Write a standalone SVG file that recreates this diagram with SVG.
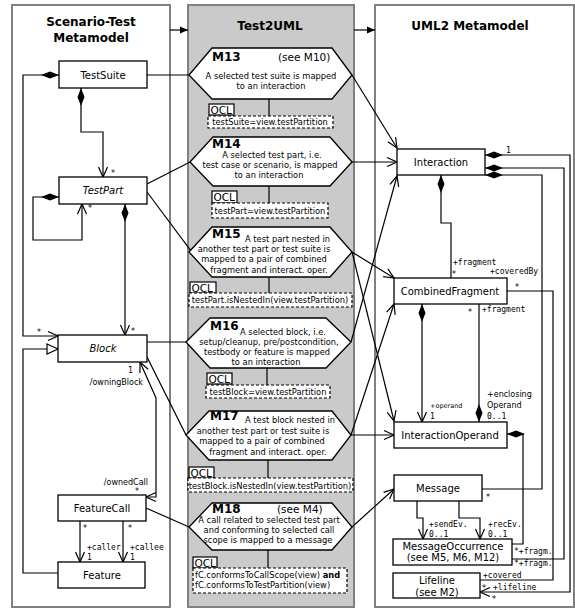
<svg xmlns="http://www.w3.org/2000/svg" width="575" height="610" viewBox="0 0 575 610">
<style>
text{font-family:"DejaVu Sans","Liberation Sans",sans-serif;fill:#000}
.ttl{font-size:12px;font-weight:bold;text-anchor:middle}
.cls{font-size:10px;text-anchor:middle}
.it{font-style:italic}
.mh{font-size:12px;font-weight:bold}
.see{font-size:10.5px}
.d{font-size:8.3px;text-anchor:middle}
.ds{font-size:8.3px}
.ocl{font-size:10.5px}
.oc{font-size:8.3px;text-anchor:middle}
.oct{font-size:8.3px}
.m{font-family:"DejaVu Sans Mono","Liberation Mono",monospace;font-size:8px}
.s{font-size:8px}
.s6{font-size:6.5px}
.box{fill:#fff;stroke:#000;stroke-width:1.3}
.hex{fill:#fff;stroke:#000;stroke-width:1.3}
.lbl{fill:#fff;stroke:#000;stroke-width:1.2}
.dash{fill:#fff;stroke:#000;stroke-width:1.2;stroke-dasharray:3,2}
.c{fill:none;stroke:#000;stroke-width:1.2}
.panel{fill:#fff;stroke:#808080;stroke-width:2}
.gpanel{fill:#cacaca;stroke:#808080;stroke-width:2}
</style>
<defs>
<marker id="arr" markerUnits="userSpaceOnUse" markerWidth="12" markerHeight="10" refX="10" refY="4.5" orient="auto-start-reverse" overflow="visible">
<path d="M0,0 L10,4.5 L0,9" fill="none" stroke="#000" stroke-width="1.2"/>
</marker>
<marker id="dia" markerUnits="userSpaceOnUse" markerWidth="20" markerHeight="10" refX="0" refY="3.5" orient="auto" overflow="visible">
<path d="M0,3.5 L9,0 L18,3.5 L9,7 Z" fill="#000"/>
</marker>
<marker id="tri" markerUnits="userSpaceOnUse" markerWidth="13" markerHeight="12" refX="11" refY="5" orient="auto" overflow="visible">
<path d="M0,0 L11,5 L0,10 Z" fill="#fff" stroke="#000" stroke-width="1.2"/>
</marker>
<marker id="farr" markerUnits="userSpaceOnUse" markerWidth="10" markerHeight="8" refX="8" refY="3.5" orient="auto" overflow="visible">
<path d="M0,0 L8,3.5 L0,7 Z" fill="#000"/>
</marker>
</defs>

<g id="panels">
<rect class="panel" x="12" y="5" width="158" height="602"/>
<rect class="gpanel" x="188" y="5" width="166" height="602"/>
<rect class="panel" x="375" y="5" width="199" height="602"/>
<text class="ttl" x="91" y="26">Scenario-Test</text>
<text class="ttl" x="91" y="42">Metamodel</text>
<text class="ttl" x="270" y="30">Test2UML</text>
<text class="ttl" x="470" y="30">UML2 Metamodel</text>
<path class="c" d="M170,30 L188,30" marker-end="url(#farr)"/>
<path class="c" d="M354,30 L375,30" marker-end="url(#farr)"/>
</g>

<g id="connectors">
<path class="c" d="M59,75 L23,75 L23,336 L58,336" marker-start="url(#dia)" marker-end="url(#arr)"/>
<path class="c" d="M81,88 L81,132 L103,132 L103,177" marker-start="url(#dia)" marker-end="url(#arr)"/>
<path class="c" d="M59,197 L33,197 L33,240 L82,240 L82,204" marker-start="url(#dia)" marker-end="url(#arr)"/>
<path class="c" d="M125,204 L125,335" marker-start="url(#dia)" marker-end="url(#arr)"/>
<path class="c" d="M58,573 L23,573 L23,349 L58,349" marker-end="url(#tri)"/>
<path class="c" d="M146,497 L156,497 L156,398 L140,362" marker-start="url(#arr)" marker-end="url(#arr)"/>
<path class="c" d="M80,521 L80,562" marker-end="url(#arr)"/>
<path class="c" d="M123,521 L123,562" marker-end="url(#arr)"/>
<path class="c" d="M147,75 L189,75"/>
<path class="c" d="M147,184 L190,162"/>
<path class="c" d="M147,192 L203,267"/>
<path class="c" d="M147,342 L186,342"/>
<path class="c" d="M147,357 L186,435"/>
<path class="c" d="M146,508 L189,527"/>
<path class="c" d="M352,75 L397,148" marker-end="url(#arr)"/>
<path class="c" d="M352,162 L397,162" marker-end="url(#arr)"/>
<path class="c" d="M352,252 L394,278" marker-end="url(#arr)"/>
<path class="c" d="M352,252 L394,421" marker-end="url(#arr)"/>
<path class="c" d="M351,342 L397,176" marker-end="url(#arr)"/>
<path class="c" d="M351,435 L394,304" marker-end="url(#arr)"/>
<path class="c" d="M351,435 L394,435" marker-end="url(#arr)"/>
<path class="c" d="M352,527 L394,489" marker-end="url(#arr)"/>
<path class="c" d="M485,155 L570,155 L570,592 L480,592" marker-start="url(#dia)" marker-end="url(#arr)"/>
<path class="c" d="M485,168 L564,168 L564,559 L512,559" marker-start="url(#dia)"/>
<path class="c" d="M485,175 L542,175 L542,489 L482,489" marker-start="url(#dia)"/>
<path class="c" d="M441,175 L441,223 L451,223 L451,278" marker-start="url(#dia)"/>
<path class="c" d="M422,304 L422,422" marker-start="url(#dia)" marker-end="url(#arr)"/>
<path class="c" d="M479,422 L479,304" marker-start="url(#dia)"/>
<path class="c" d="M507,434 L523,434 L523,544 L512,544" marker-start="url(#dia)"/>
<path class="c" d="M507,291 L553,291 L553,580 L480,580"/>
<path class="c" d="M417,501 L417,518 L423,518 L423,539" marker-end="url(#arr)"/>
<path class="c" d="M459,501 L459,518 L480,518 L480,539" marker-end="url(#arr)"/>
</g>

<g id="TestSuite"><rect class="box" x="59" y="61" width="88" height="27"/><text class="cls" x="103" y="78.5">TestSuite</text></g>
<g id="TestPart"><rect class="box" x="59" y="177" width="88" height="27"/><text class="cls it" x="103" y="194">TestPart</text></g>
<g id="Block"><rect class="box" x="58" y="335" width="89" height="27"/><text class="cls it" x="103" y="352">Block</text></g>
<g id="FeatureCall"><rect class="box" x="58" y="495" width="88" height="26"/><text class="cls" x="102" y="511.5">FeatureCall</text></g>
<g id="Feature"><rect class="box" x="58" y="562" width="87" height="26"/><text class="cls" x="102" y="578.5">Feature</text></g>

<g id="left-labels">
<text class="s" x="111" y="176">*</text>
<text class="s" x="88" y="211">*</text>
<text class="s" x="131" y="334">*</text>
<text class="s" x="37" y="335">*</text>
<text class="s" x="128" y="373">1</text>
<text class="s" x="143" y="385" text-anchor="end">/owningBlock</text>
<text class="s" x="148" y="485" text-anchor="end">/ownedCall</text>
<text class="s" x="135" y="494">*</text>
<text class="s" x="83" y="531">*</text>
<text class="s" x="128" y="531">*</text>
<text class="m" x="87" y="550">+caller</text>
<text class="m" x="87" y="560">1</text>
<text class="m" x="130" y="550">+callee</text>
<text class="m" x="130" y="560">1</text>
</g>

<g id="M13">
<polygon class="hex" points="189,75 212,48 332,48 352,75 332,99 212,99"/>
<text class="mh" x="212" y="61">M13</text><text class="see" x="278" y="61">(see M10)</text>
<text class="d" x="271" y="79">A selected test suite is mapped</text>
<text class="d" x="271" y="89">to an interaction</text>
<path class="c" d="M269,99 L269,116"/>
<rect class="lbl" x="209" y="104" width="25" height="11"/><text class="ocl" x="210.5" y="113.5">OCL</text>
<rect class="dash" x="208" y="116" width="125" height="12"/><text class="oc" x="270" y="125">testSuite=view.testPartition</text>
</g>

<g id="M14">
<polygon class="hex" points="190,162 213,137 330,137 352,162 330,186 213,186"/>
<text class="mh" x="212" y="148">M14</text>
<text class="d" x="272" y="158">A selected test part, i.e.</text>
<text class="d" x="270" y="168">test case or scenario, is mapped</text>
<text class="d" x="269" y="178">to an interaction</text>
<path class="c" d="M269,186 L269,203"/>
<rect class="lbl" x="212" y="191" width="25" height="12"/><text class="ocl" x="213.5" y="201">OCL</text>
<rect class="dash" x="212" y="203" width="116" height="15"/><text class="oc" x="270" y="213.5">testPart=view.testPartition</text>
</g>

<g id="M15">
<polygon class="hex" points="189,252 212,227 330,227 352,252 330,277 212,277"/>
<text class="mh" x="212" y="238">M15</text>
<text class="ds" x="245" y="242">A test part nested in</text>
<text class="d" x="264" y="252">another test part or test suite is</text>
<text class="d" x="264" y="262">mapped to a pair of combined</text>
<text class="d" x="269" y="273">fragment and interact. oper.</text>
<path class="c" d="M269,277 L269,293"/>
<rect class="lbl" x="190" y="282" width="26" height="11"/><text class="ocl" x="191.5" y="291.5">OCL</text>
<rect class="dash" x="189" y="293" width="163" height="14"/><text class="oc" x="270" y="303">testPart.isNestedIn(view.testPartition)</text>
</g>

<g id="M16">
<polygon class="hex" points="186,342 210,318 326,318 351,342 326,368 210,368"/>
<text class="mh" x="210" y="330">M16</text>
<text class="ds" x="240" y="335">A selected block, i.e.</text>
<text class="d" x="269" y="345">setup/cleanup, pre/postcondition,</text>
<text class="d" x="267" y="355">testbody or feature is mapped</text>
<text class="d" x="266" y="365">to an interaction</text>
<path class="c" d="M267,368 L267,385"/>
<rect class="lbl" x="207" y="373" width="25" height="11"/><text class="ocl" x="208.5" y="382.5">OCL</text>
<rect class="dash" x="206" y="385" width="124" height="13"/><text class="oc" x="268" y="395">testBlock=view.testPartition</text>
</g>

<g id="M17">
<polygon class="hex" points="186,435 209,411 332,411 351,435 332,460 209,460"/>
<text class="mh" x="210" y="420">M17</text>
<text class="ds" x="245" y="423">A test block nested in</text>
<text class="d" x="263" y="434">another test part or test suite is</text>
<text class="d" x="262" y="444">mapped to a pair of combined</text>
<text class="d" x="268" y="455">fragment and interact. oper.</text>
<path class="c" d="M268,460 L268,478"/>
<rect class="lbl" x="189" y="467" width="25" height="11"/><text class="ocl" x="190.5" y="476.5">OCL</text>
<rect class="dash" x="188" y="478" width="165" height="14"/><text class="oc" x="270" y="488.5">testBlock.isNestedIn(view.testPartition)</text>
</g>

<g id="M18">
<polygon class="hex" points="189,527 212,503 332,503 352,527 332,550 212,550"/>
<text class="mh" x="212" y="513">M18</text><text class="see" x="277" y="513">(see M4)</text>
<text class="d" x="269" y="523">A call related to selected test part</text>
<text class="d" x="269" y="533">and conforming to selected call</text>
<text class="d" x="268" y="543">scope is mapped to a message</text>
<path class="c" d="M268,550 L268,568"/>
<rect class="lbl" x="193" y="557" width="24" height="11"/><text class="ocl" x="194.5" y="566.5">OCL</text>
<rect class="dash" x="193" y="568" width="154" height="25"/>
<text class="oct" x="195" y="578">fC.conformsToCallScope(view) <tspan font-weight="bold">and</tspan></text>
<text class="oct" x="195" y="588">fC.conformsToTestPartition(view)</text>
</g>

<g id="Interaction"><rect class="box" x="397" y="149" width="88" height="26"/><text class="cls" x="441" y="165.5">Interaction</text></g>
<g id="CombinedFragment"><rect class="box" x="394" y="278" width="113" height="26"/><text class="cls" x="450" y="294.5">CombinedFragment</text></g>
<g id="InteractionOperand"><rect class="box" x="394" y="422" width="113" height="26"/><text class="cls" x="450" y="438.5">InteractionOperand</text></g>
<g id="Message"><rect class="box" x="394" y="475" width="88" height="26"/><text class="cls" x="438" y="491.5">Message</text></g>
<g id="MessageOccurrence"><rect class="box" x="393" y="539" width="119" height="26"/><text class="cls" x="453" y="549.5">MessageOccurrence</text><text class="cls" x="453" y="561">(see M5, M6, M12)</text></g>
<g id="Lifeline"><rect class="box" x="393" y="573" width="87" height="25"/><text class="cls" x="437" y="584">Lifeline</text><text class="cls" x="437" y="595.5">(see M2)</text></g>

<g id="right-labels">
<text class="m" x="506" y="153">1</text>
<text class="m" x="453" y="265">+fragment</text>
<text class="s" x="452" y="277">*</text>
<text class="m" x="490" y="274">+coveredBy</text>
<text class="s" x="515" y="290">*</text>
<text class="s" x="468" y="315">*</text>
<text class="m" x="482" y="312">+fragment</text>
<text class="s" x="487" y="397">+enclosing</text>
<text class="s" x="487" y="408">Operand</text>
<text class="m" x="487" y="419">0..1</text>
<text class="s6" x="430" y="408">+operand</text>
<text class="m" x="430" y="419">1</text>
<text class="m" x="429" y="527">+sendEv.</text>
<text class="m" x="429" y="537">0..1</text>
<text class="m" x="488" y="527">+recEv.</text>
<text class="m" x="488" y="537">0..1</text>
<text class="s" x="486" y="500">*</text>
<text class="m" x="514" y="554">*+fragm.</text>
<text class="m" x="514" y="566">*+fragm.</text>
<text class="m" x="483" y="578">+covered</text>
<text class="s" x="482" y="591">*</text>
<text class="m" x="493" y="590">+lifeline</text>
<text class="s" x="492" y="602">*</text>
</g>
</svg>
